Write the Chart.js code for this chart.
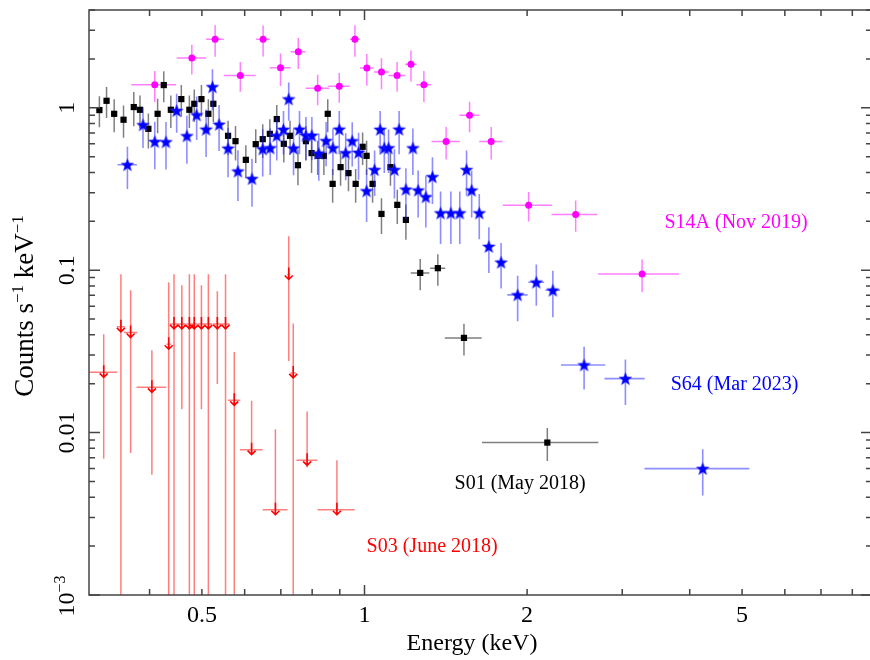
<!DOCTYPE html>
<html lang="en">
<head>
<meta charset="utf-8">
<title>Counts spectra S01 / S03 / S14A / S64</title>
<script src="https://cdn.jsdelivr.net/npm/chart.js@4.4.1/dist/chart.umd.min.js"></script>
<style>
  html, body { margin: 0; padding: 0; background: #fff; overflow: hidden; }
  #wrap { width: 880px; height: 660px; }
</style>
</head>
<body>
<div id="wrap"><canvas id="spec" width="880" height="660"></canvas></div>
<script>
// ---------------- data (energy in keV, rate in counts/s/keV) ----------------

// S01 (May 2018) - black squares
const s01Energy = [0.323, 0.333, 0.344, 0.358, 0.374, 0.384, 0.398, 0.414, 0.425, 0.438, 0.458, 0.474, 0.484, 0.499, 0.514, 0.525,
  0.559, 0.577, 0.603, 0.629, 0.648, 0.668, 0.688, 0.709, 0.728, 0.753, 0.779, 0.798, 0.819, 0.841, 0.855,
  0.873, 0.903, 0.934, 0.963, 0.992, 1.009, 1.035, 1.075, 1.117, 1.150, 1.193, 1.268, 1.367, 1.528, 2.180];
const s01EnergyErr = [0.004, 0.004, 0.004, 0.004, 0.004, 0.004, 0.004, 0.004, 0.004, 0.004, 0.004, 0.004, 0.004, 0.004, 0.004, 0.004,
  0.006, 0.006, 0.006, 0.006, 0.006, 0.006, 0.006, 0.006, 0.006, 0.006, 0.006, 0.006, 0.006, 0.006, 0.006,
  0.008, 0.008, 0.008, 0.008, 0.008, 0.008, 0.008, 0.008, 0.008, 0.008, 0.008, 0.05, 0.044, 0.12, 0.53];
const s01Rate = [0.968, 1.104, 0.918, 0.844, 1.010, 0.972, 0.742, 0.918, 1.380, 0.972, 1.131, 0.972, 1.058, 1.131, 0.918, 1.058,
  0.672, 0.623, 0.478, 0.597, 0.641, 0.691, 0.852, 0.600, 0.672, 0.443, 0.623, 0.526, 0.506, 0.506, 0.918,
  0.340, 0.431, 0.396, 0.340, 0.575, 0.506, 0.340, 0.222, 0.431, 0.2525, 0.204, 0.0962, 0.1029, 0.0383, 0.00868];
const s01RateErr = [0.21, 0.24, 0.21, 0.19, 0.24, 0.22, 0.18, 0.22, 0.30, 0.22, 0.25, 0.22, 0.24, 0.25, 0.21, 0.24,
  0.16, 0.15, 0.11, 0.14, 0.15, 0.16, 0.19, 0.14, 0.16, 0.11, 0.15, 0.13, 0.12, 0.12, 0.21,
  0.08, 0.10, 0.09, 0.08, 0.13, 0.12, 0.08, 0.055, 0.10, 0.06, 0.05, 0.021, 0.0226, 0.0085, 0.002];

// S14A (Nov 2019) - magenta circles
const s14Energy = [0.409, 0.479, 0.529, 0.589, 0.649, 0.699, 0.754, 0.819, 0.898, 0.960, 1.010, 1.075, 1.149, 1.219, 1.288,
  1.416, 1.565, 1.716, 2.013, 2.460, 3.265];
const s14EnergyErr = [0.039, 0.030, 0.020, 0.040, 0.019, 0.031, 0.024, 0.041, 0.041, 0.020, 0.029, 0.034, 0.041, 0.030, 0.041,
  0.085, 0.066, 0.085, 0.21, 0.24, 0.56];
const s14Rate = [1.386, 2.024, 2.639, 1.583, 2.639, 1.761, 2.213, 1.317, 1.355, 2.639, 1.757, 1.660, 1.583, 1.851, 1.386,
  0.621, 0.898, 0.621, 0.2515, 0.2204, 0.0949];
const s14RateErr = [0.30, 0.42, 0.58, 0.33, 0.57, 0.40, 0.48, 0.28, 0.28, 0.58, 0.39, 0.36, 0.33, 0.40, 0.30,
  0.14, 0.19, 0.14, 0.052, 0.048, 0.0215];

// S64 (Mar 2023) - blue stars
const s64Energy = [0.364, 0.389, 0.409, 0.429, 0.449, 0.469, 0.489, 0.509, 0.523, 0.538, 0.559, 0.583, 0.619, 0.648, 0.669,
  0.688, 0.708, 0.724, 0.739, 0.758, 0.779, 0.799, 0.823, 0.849, 0.874, 0.898, 0.923, 0.949, 0.975, 1.009,
  1.044, 1.069, 1.088, 1.108, 1.136, 1.159, 1.193, 1.229, 1.257, 1.299, 1.336, 1.383, 1.445, 1.501, 1.545,
  1.579, 1.631, 1.699, 1.790, 1.921, 2.080, 2.232, 2.550, 3.041, 4.228];
const s64EnergyErr = [0.015, 0.008, 0.006, 0.006, 0.006, 0.006, 0.006, 0.005, 0.005, 0.005, 0.006, 0.008, 0.010, 0.006, 0.006,
  0.006, 0.006, 0.006, 0.006, 0.006, 0.006, 0.006, 0.006, 0.007, 0.007, 0.007, 0.007, 0.007, 0.007, 0.010,
  0.008, 0.006, 0.006, 0.006, 0.008, 0.008, 0.010, 0.010, 0.010, 0.012, 0.012, 0.015, 0.015, 0.015, 0.015,
  0.015, 0.020, 0.020, 0.030, 0.083, 0.070, 0.070, 0.24, 0.26, 0.93];
const s64Rate = [0.446, 0.786, 0.619, 0.617, 0.961, 0.672, 0.904, 0.737, 1.347, 0.791, 0.563, 0.407, 0.366, 0.558, 0.566,
  0.674, 0.736, 1.133, 0.564, 0.737, 0.676, 0.676, 0.525, 0.627, 0.566, 0.737, 0.528, 0.625, 0.531, 0.308,
  0.416, 0.736, 0.566, 0.566, 0.416, 0.737, 0.315, 0.566, 0.311, 0.283, 0.376, 0.225, 0.225, 0.225, 0.416,
  0.311, 0.225, 0.140, 0.112, 0.0705, 0.0843, 0.0753, 0.0261, 0.0215, 0.0060];
const s64RateErr = [0.13, 0.22, 0.20, 0.20, 0.26, 0.22, 0.27, 0.24, 0.38, 0.25, 0.19, 0.14, 0.12, 0.18, 0.18,
  0.20, 0.22, 0.30, 0.18, 0.22, 0.20, 0.20, 0.17, 0.19, 0.18, 0.22, 0.17, 0.19, 0.17, 0.11,
  0.13, 0.22, 0.17, 0.17, 0.14, 0.22, 0.11, 0.18, 0.10, 0.10, 0.12, 0.08, 0.08, 0.08, 0.13,
  0.10, 0.07, 0.044, 0.035, 0.022, 0.024, 0.024, 0.0077, 0.0067, 0.0019];

// S03 (June 2018) - red upper limits (0 in lower = bar runs off the bottom)
const s03Energy = [0.329, 0.354, 0.369, 0.404, 0.434, 0.444, 0.459, 0.474, 0.484, 0.499, 0.514, 0.534, 0.553, 0.574, 0.618,
  0.684, 0.724, 0.738, 0.783, 0.889];
const s03EnergyErr = [0.0195, 0.006, 0.0105, 0.0255, 0.004, 0.0075, 0.0075, 0.0062, 0.0063, 0.0075, 0.0088, 0.0098, 0.010, 0.015, 0.030,
  0.036, 0.005, 0.009, 0.035, 0.070];
const s03Limit = [0.0235, 0.0448, 0.0413, 0.0190, 0.0350, 0.0467, 0.0467, 0.0467, 0.0467, 0.0467, 0.0467, 0.0467, 0.0467, 0.0158, 0.00785,
  0.00335, 0.0941, 0.0233, 0.00675, 0.00335];
const s03Upper = [0.0403, 0.0944, 0.0753, 0.0321, 0.0843, 0.0945, 0.0809, 0.0945, 0.0945, 0.0809, 0.0945, 0.0742, 0.0945, 0.0314, 0.0157,
  0.0105, 0.162, 0.0469, 0.0135, 0.00675];
const s03Lower = [0.0069, 0, 0.0075, 0.0055, 0, 0, 0.0139, 0, 0, 0.0139, 0, 0.0199, 0, 0, 0.0074,
  0.0031, 0.0276, 0, 0.0061, 0.0031];

// axis ticks
const xTickValues = [0.5, 1, 2, 5];
const xTickLabels = ['0.5', '1', '2', '5'];
const xMinorTicks = [0.4, 0.5, 0.6, 0.7, 0.8, 0.9, 2, 3, 4, 5, 6, 7, 8];
const yTickValues = [1, 0.1, 0.01];
const yTickLabels = ['1', '0.1', '0.01'];
const yMajorTicks = [0.001, 0.01, 0.1, 1];

// text labels placed in data coordinates (energy, rate at the baseline)
const labelText = ['S14A (Nov 2019)', 'S64 (Mar 2023)', 'S01 (May 2018)', 'S03 (June 2018)'];
const labelEnergy = [4.874, 4.843, 1.941, 1.334];
const labelRate = [0.1807, 0.01822, 0.00452, 0.00183];
const labelColor = ['#ff00ff', '#0000ff', '#000000', '#ff0000'];

const FONT = '"Liberation Serif", "Times New Roman", serif';
const axisColor = '#444';

// ---------------- helpers ----------------
function pts(ex, ey) {
  return ex.map((e, i) => ({ x: e, y: ey[i] }));
}

// filled five point star used as point style
function makeStar(size, color) {
  const c = document.createElement('canvas');
  c.width = size; c.height = size;
  const g = c.getContext('2d');
  const r = size / 2 - 0.8, ri = r * 0.42;
  g.beginPath();
  for (let k = 0; k < 10; k++) {
    const rr = k % 2 ? ri : r;
    const a = -Math.PI / 2 + k * Math.PI / 5;
    g.lineTo(size / 2 + rr * Math.cos(a), size / 2 + 0.6 + rr * Math.sin(a));
  }
  g.closePath();
  g.fillStyle = color;
  g.fill();
  g.strokeStyle = 'rgba(60,60,255,0.5)';
  g.lineWidth = 1;
  g.stroke();
  return c;
}
const starImg = makeStar(15, '#0000ff');

// draw text with superscripts, rotated or not
function drawParts(ctx, parts, x, y, rotate) {
  ctx.save();
  ctx.translate(x, y);
  if (rotate) ctx.rotate(-Math.PI / 2);
  ctx.textBaseline = 'alphabetic';
  ctx.textAlign = 'left';
  let total = 0;
  parts.forEach(p => { ctx.font = p.size + 'px ' + FONT; p.w = ctx.measureText(p.t).width; total += p.w; });
  let cx = -total / 2;
  parts.forEach(p => {
    ctx.font = p.size + 'px ' + FONT;
    ctx.fillText(p.t, cx, -p.rise);
    cx += p.w;
  });
  ctx.restore();
}

// ---------------- plugins ----------------
const errorBars = {
  id: 'errorBars',
  beforeDatasetDraw(chart, args) {
    const ds = chart.data.datasets[args.index];
    if (!ds.err) return;
    const xs = chart.scales.x, ys = chart.scales.y, a = chart.chartArea, ctx = chart.ctx;
    const e = ds.err;
    ctx.save();
    ctx.beginPath();
    ctx.rect(a.left, a.top, a.right - a.left, a.bottom - a.top);
    ctx.clip();
    ctx.strokeStyle = e.color;
    ctx.lineWidth = e.width || 1.5;
    ctx.beginPath();
    ds.data.forEach((p, i) => {
      const px = xs.getPixelForValue(p.x), py = ys.getPixelForValue(p.y);
      const x0 = xs.getPixelForValue(p.x - e.dx[i]), x1 = xs.getPixelForValue(p.x + e.dx[i]);
      const top = ys.getPixelForValue(e.hi[i]);
      const bot = e.lo[i] > 0 ? ys.getPixelForValue(e.lo[i]) : a.bottom;
      ctx.moveTo(x0, py); ctx.lineTo(x1, py);
      ctx.moveTo(px, top); ctx.lineTo(px, bot);
    });
    ctx.stroke();
    ctx.restore();
  },
  afterDatasetDraw(chart, args) {
    const ds = chart.data.datasets[args.index];
    if (!ds.upperLimit) return;
    const xs = chart.scales.x, ys = chart.scales.y, ctx = chart.ctx;
    ctx.save();
    ctx.strokeStyle = '#ff0000';
    ctx.lineWidth = 1.6;
    ctx.beginPath();
    ds.data.forEach(p => {
      const px = xs.getPixelForValue(p.x), py = ys.getPixelForValue(p.y);
      ctx.moveTo(px, py - 7); ctx.lineTo(px, py + 5);
      ctx.moveTo(px - 4, py + 1); ctx.lineTo(px, py + 5); ctx.lineTo(px + 4, py + 1);
    });
    ctx.stroke();
    ctx.restore();
  }
};

const frame = {
  id: 'frame',
  afterDraw(chart) {
    const { ctx, chartArea: a } = chart;
    const xs = chart.scales.x, ys = chart.scales.y;
    ctx.save();
    ctx.strokeStyle = axisColor;
    ctx.lineWidth = 1.5;
    ctx.strokeRect(a.left, a.top, a.right - a.left, a.bottom - a.top);

    ctx.beginPath();
    // x ticks, bottom and top, pointing in
    xMinorTicks.concat([1]).forEach(v => {
      const px = xs.getPixelForValue(v);
      const len = v === 1 ? 10 : 6;
      ctx.moveTo(px, a.bottom); ctx.lineTo(px, a.bottom - len);
      ctx.moveTo(px, a.top); ctx.lineTo(px, a.top + len);
    });
    // y ticks, left and right
    yMajorTicks.forEach(dec => {
      for (let m = 1; m <= 9; m++) {
        const v = dec * m;
        if (v > 4.01) break;
        const py = ys.getPixelForValue(v);
        const len = m === 1 ? 11 : 6;
        ctx.moveTo(a.left, py); ctx.lineTo(a.left + len, py);
        ctx.moveTo(a.right, py); ctx.lineTo(a.right - len, py);
      }
    });
    ctx.stroke();

    // tick labels
    ctx.fillStyle = '#000';
    ctx.font = '24px ' + FONT;
    ctx.textAlign = 'center';
    ctx.textBaseline = 'alphabetic';
    xTickValues.forEach((v, i) => ctx.fillText(xTickLabels[i], xs.getPixelForValue(v), a.bottom + 27));
    yTickValues.forEach((v, i) => {
      drawParts(ctx, [{ t: yTickLabels[i], size: 24, rise: 0 }], a.left - 15, ys.getPixelForValue(v), true);
    });
    drawParts(ctx, [{ t: '10', size: 24, rise: 0 }, { t: '\u22123', size: 16, rise: 9 }],
      a.left - 15, ys.getPixelForValue(0.001) + 1, true);

    // axis titles
    ctx.font = '24px ' + FONT;
    ctx.textAlign = 'center';
    ctx.fillText('Energy (keV)', a.left + 383, a.bottom + 55);
    drawParts(ctx, [
      { t: 'Counts s', size: 27, rise: 0 },
      { t: '\u22121', size: 17, rise: 10 },
      { t: ' keV', size: 27, rise: 0 },
      { t: '\u22121', size: 17, rise: 10 }
    ], 33, 306, true);

    // observation labels
    ctx.font = '20px ' + FONT;
    ctx.textAlign = 'center';
    labelText.forEach((t, i) => {
      ctx.fillStyle = labelColor[i];
      ctx.fillText(t, xs.getPixelForValue(labelEnergy[i]), ys.getPixelForValue(labelRate[i]));
    });
    ctx.restore();
  }
};

// ---------------- chart ----------------
const datasets = [
  {
    label: 'S64 (Mar 2023)',
    data: pts(s64Energy, s64Rate),
    order: 0,
    pointStyle: starImg,
    pointRadius: 7,
    err: {
      dx: s64EnergyErr,
      lo: s64Rate.map((v, i) => v - s64RateErr[i]),
      hi: s64Rate.map((v, i) => v + s64RateErr[i]),
      color: 'rgba(30,30,255,0.5)', width: 1.6
    }
  },
  {
    label: 'S01 (May 2018)',
    data: pts(s01Energy, s01Rate),
    order: 1,
    pointStyle: 'rect',
    pointRadius: 4.4,
    backgroundColor: '#000',
    borderWidth: 0,
    err: {
      dx: s01EnergyErr,
      lo: s01Rate.map((v, i) => v - s01RateErr[i]),
      hi: s01Rate.map((v, i) => v + s01RateErr[i]),
      color: 'rgba(0,0,0,0.5)', width: 1.5
    }
  },
  {
    label: 'S14A (Nov 2019)',
    data: pts(s14Energy, s14Rate),
    order: 2,
    pointStyle: 'circle',
    pointRadius: 3.5,
    backgroundColor: '#ff00ff',
    borderWidth: 0,
    err: {
      dx: s14EnergyErr,
      lo: s14Rate.map((v, i) => v - s14RateErr[i]),
      hi: s14Rate.map((v, i) => v + s14RateErr[i]),
      color: 'rgba(255,0,255,0.5)', width: 1.5
    }
  },
  {
    label: 'S03 (June 2018)',
    data: pts(s03Energy, s03Limit),
    order: 3,
    pointRadius: 0,
    upperLimit: true,
    err: {
      dx: s03EnergyErr,
      lo: s03Lower,
      hi: s03Upper,
      color: 'rgba(255,0,0,0.5)', width: 1.5
    }
  }
];

new Chart(document.getElementById('spec'), {
  type: 'scatter',
  data: { datasets: datasets },
  options: {
    responsive: false,
    animation: false,
    devicePixelRatio: 1,
    events: [],
    layout: { padding: { left: 89, top: 10, right: 4, bottom: 65 } },
    plugins: { legend: { display: false }, tooltip: { enabled: false } },
    scales: {
      x: { type: 'logarithmic', bounds: 'data', min: 0.309, max: 8.7, display: false },
      y: { type: 'logarithmic', bounds: 'data', min: 0.001, max: 4, display: false }
    }
  },
  plugins: [errorBars, frame]
});
</script>
</body>
</html>
